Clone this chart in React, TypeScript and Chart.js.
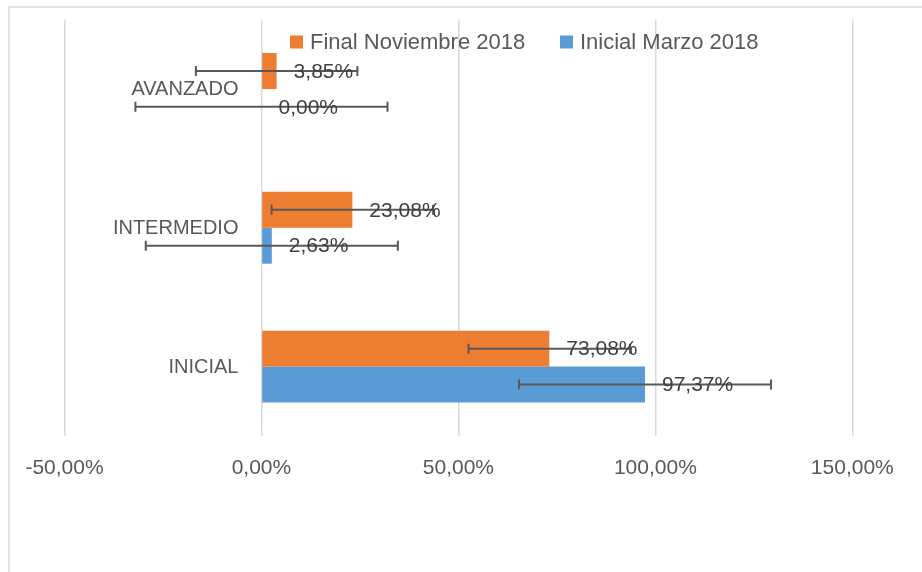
import React, { useEffect, useRef } from "react";
import { Chart, registerables } from "chart.js";

Chart.register(...registerables);

const categories = ["INICIAL", "INTERMEDIO", "AVANZADO"];
const finalNoviembre = [73.08, 23.08, 3.85];
const inicialMarzo = [97.37, 2.63, 0];
const finalNoviembreErr = [20.5, 20.5, 20.5];
const inicialMarzoErr = [32, 32, 32];
const seriesNames = ["Final Noviembre 2018", "Inicial Marzo 2018"];
const seriesColors = ["#ED7D31", "#5B9BD5"];
const xMin = -50;
const xMax = 150;
const xStep = 50;

const FONT = '"Liberation Sans", Arial, sans-serif';

const fmt = (v: number) => v.toFixed(2).replace(".", ",") + "%";

const overlayPlugin = {
  id: "overlay",
  afterDatasetsDraw(chart: any) {
    const { ctx } = chart;
    const xs = chart.scales.x;
    const ys = chart.scales.y;
    ctx.save();
    // error bars
    chart.data.datasets.forEach((ds: any, di: number) => {
      const meta = chart.getDatasetMeta(di);
      meta.data.forEach((bar: any, i: number) => {
        const v = ds.data[i];
        const e = ds.errorBars[i];
        const yy = bar.y;
        const x1 = xs.getPixelForValue(v - e);
        const x2 = xs.getPixelForValue(v + e);
        ctx.strokeStyle = "#595959";
        ctx.lineWidth = 2;
        ctx.beginPath();
        ctx.moveTo(x1, yy);
        ctx.lineTo(x2, yy);
        ctx.moveTo(x1, yy - 5);
        ctx.lineTo(x1, yy + 5);
        ctx.moveTo(x2, yy - 5);
        ctx.lineTo(x2, yy + 5);
        ctx.stroke();
      });
    });
    // data labels
    chart.data.datasets.forEach((ds: any, di: number) => {
      const meta = chart.getDatasetMeta(di);
      meta.data.forEach((bar: any, i: number) => {
        const v = ds.data[i];
        ctx.font = `21px ${FONT}`;
        ctx.fillStyle = "#404040";
        ctx.textAlign = "left";
        ctx.textBaseline = "middle";
        ctx.fillText(fmt(v), xs.getPixelForValue(v) + 17, bar.y + 1);
      });
    });
    // category labels next to the zero axis
    categories.forEach((c, i) => {
      ctx.font = `20px ${FONT}`;
      ctx.fillStyle = "#595959";
      ctx.textAlign = "right";
      ctx.textBaseline = "middle";
      ctx.fillText(c, xs.getPixelForValue(0) - 23, ys.getPixelForValue(i) + 1);
    });
    ctx.restore();
  },
  afterDraw(chart: any) {
    const { ctx } = chart;
    ctx.save();
    // chart frame
    ctx.strokeStyle = "#d9d9d9";
    ctx.lineWidth = 1.5;
    ctx.beginPath();
    ctx.moveTo(9, 572);
    ctx.lineTo(9, 7);
    ctx.lineTo(922, 7);
    ctx.stroke();
    // legend
    const items = [
      { x: 290, name: seriesNames[0], color: seriesColors[0] },
      { x: 560, name: seriesNames[1], color: seriesColors[1] },
    ];
    items.forEach((it) => {
      ctx.fillStyle = it.color;
      ctx.fillRect(it.x, 35.5, 13, 13);
      ctx.font = `22px ${FONT}`;
      ctx.fillStyle = "#595959";
      ctx.textAlign = "left";
      ctx.textBaseline = "middle";
      ctx.fillText(it.name, it.x + 20, 43);
    });
    ctx.restore();
  },
};

export default function App() {
  const ref = useRef<HTMLCanvasElement | null>(null);
  useEffect(() => {
    if (!ref.current) return;
    const chart = new Chart(ref.current, {
      type: "bar",
      data: {
        labels: categories,
        datasets: [
          {
            label: seriesNames[0],
            data: finalNoviembre,
            backgroundColor: seriesColors[0],
            errorBars: finalNoviembreErr,
          } as any,
          {
            label: seriesNames[1],
            data: inicialMarzo,
            backgroundColor: seriesColors[1],
            errorBars: inicialMarzoErr,
          } as any,
        ],
      },
      options: {
        indexAxis: "y",
        animation: false,
        responsive: false,
        layout: { padding: { top: 19.5, left: 64.5, right: 69.7, bottom: 0 } },
        datasets: { bar: { categoryPercentage: 0.517, barPercentage: 1 } },
        plugins: { legend: { display: false }, tooltip: { enabled: false } },
        scales: {
          x: {
            min: xMin,
            max: xMax,
            ticks: {
              stepSize: xStep,
              padding: 20,
              color: "#595959",
              font: { family: FONT, size: 21 },
              callback: (v: any) => fmt(Number(v)),
            },
            grid: { color: "#d9d9d9", lineWidth: 1.5, drawTicks: false },
            border: { display: false },
            afterFit: (s: any) => {
              s.height = 136;
            },
          },
          y: {
            display: false,
            reverse: true,
            grid: { display: false },
          },
        },
      } as any,
      plugins: [overlayPlugin],
    });
    return () => chart.destroy();
  }, []);
  return (
    <div style={{ position: "absolute", left: 0, top: 0, width: 922, height: 572, background: "#fff" }}>
      <canvas ref={ref} width={922} height={572} />
    </div>
  );
}
